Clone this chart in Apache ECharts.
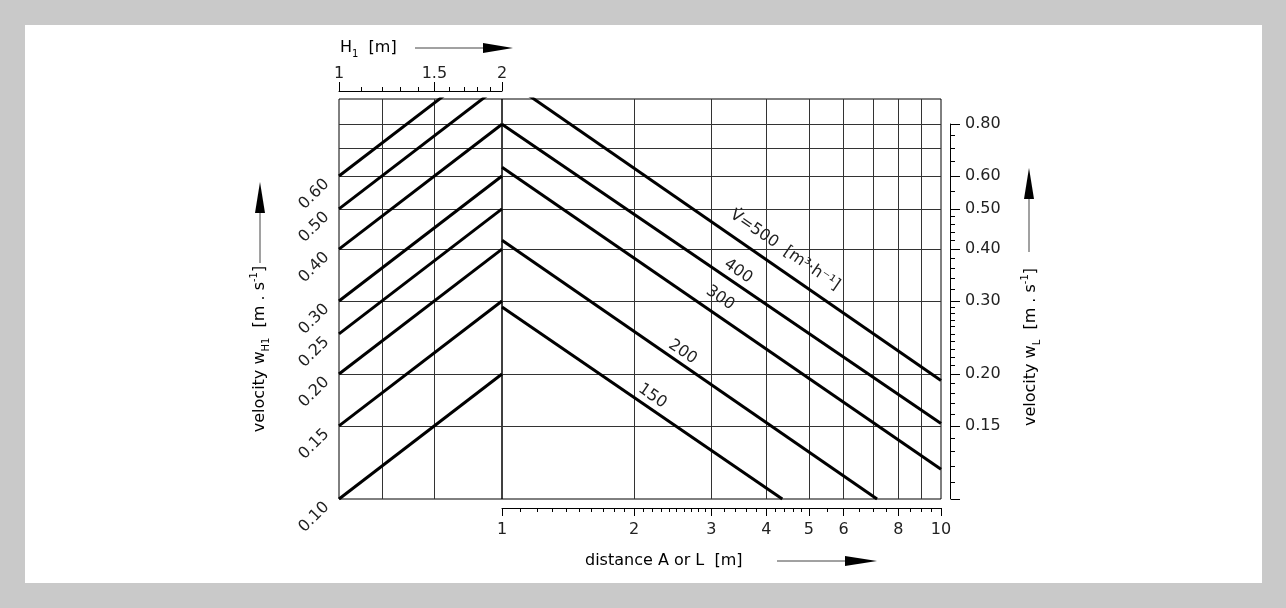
<!DOCTYPE html>
<html>
<head>
<meta charset="utf-8">
<title>velocity nomogram</title>
<style>
html, body { margin: 0; padding: 0; background: #c9c9c9; }
#panel { position: absolute; left: 25px; top: 25px; width: 1237px; height: 558px; background: #fff; }
#main { position: absolute; left: 0; top: 0; width: 1286px; height: 608px; }
</style>
<script src="https://cdn.jsdelivr.net/npm/echarts@6/dist/echarts.min.js"></script>
</head>
<body>
<div id="panel"></div>
<div id="main"></div>
<script>
// left part: rising lines over H1 (1..2 m), start value at H1=1 and end value at H1=2
var h1Start = [0.60, 0.50, 0.40, 0.30, 0.25, 0.20, 0.15, 0.10];
var h1End   = [1.20, 1.00, 0.80, 0.60, 0.50, 0.40, 0.30, 0.20];

// right part: falling lines over distance A or L, one per flow rate
var flowRates = ['500', '400', '300', '200', '150'];
var distStart = [[1, 1.04], [1, 0.80], [1, 0.63], [1, 0.42], [1, 0.29]];
var distEnd   = [[10, 0.193], [10, 0.152], [10, 0.118], [7.15, 0.10], [4.35, 0.10]];

// tick / grid values
var h1Minor = [1.1, 1.2, 1.3, 1.4, 1.6, 1.7, 1.8, 1.9];
var h1Major = [1, 1.5, 2];
var h1Grid = [1.2, 1.5];
var distMinor = [1.1, 1.2, 1.3, 1.4, 1.5, 1.6, 1.7, 1.8, 1.9,
                 2.1, 2.2, 2.3, 2.4, 2.5, 2.6, 2.7, 2.8, 2.9,
                 3.2, 3.4, 3.6, 3.8, 4.2, 4.4, 4.6, 4.8,
                 5.5, 6.5, 7, 7.5, 8.5, 9, 9.5];
var distMajor = [1, 2, 3, 4, 5, 6, 8, 10];
var distGrid = [2, 3, 4, 5, 6, 7, 8, 9];
var wGrid = [0.15, 0.2, 0.3, 0.4, 0.5, 0.6, 0.7, 0.8];
var wLeftLabels = [0.10, 0.15, 0.20, 0.25, 0.30, 0.40, 0.50, 0.60];
var wRightMinor = [0.11, 0.12, 0.13, 0.14, 0.16, 0.17, 0.18, 0.19,
                   0.21, 0.22, 0.23, 0.24, 0.25, 0.26, 0.27, 0.28, 0.29,
                   0.32, 0.34, 0.36, 0.38, 0.42, 0.44, 0.46, 0.48,
                   0.55, 0.65, 0.70, 0.75];
var wRightMajor = [0.10, 0.15, 0.20, 0.30, 0.40, 0.50, 0.60, 0.80];
var wRightLabels = [0.15, 0.20, 0.30, 0.40, 0.50, 0.60, 0.80];

// where the flow-rate captions sit (data coords of text centre)
var captionSpots = [[4.41, 0.398], [3.45, 0.354], [3.14, 0.305], [2.58, 0.226], [2.20, 0.177]];
var captionTexts = ['V\u0307=500  [m\u00b3\u00b7h\u207b\u00b9]', '400', '300', '200', '150'];

var font = 'DejaVu Sans';
var textColor = '#222';
var gridColor = '#333';

var dom = document.getElementById('main');
var myChart = echarts.init(dom);

function fmt2(v) { return (+v).toFixed(2); }

var labelStyle = { fontFamily: font, fontSize: 16, color: textColor };
var richStyle = {
    a: { fontFamily: font, fontSize: 16, color: textColor, lineHeight: 22 },
    s: { fontFamily: font, fontSize: 10, color: textColor, lineHeight: 22, verticalAlign: 'bottom' },
    p: { fontFamily: font, fontSize: 10, color: textColor, lineHeight: 22, verticalAlign: 'top' }
};

var series = [];
for (var i = 0; i < h1Start.length; i++) {
    series.push({
        type: 'line', xAxisIndex: 0, yAxisIndex: 0,
        data: [[1, h1Start[i]], [2, h1End[i]]],
        symbol: 'none', clip: true, silent: true,
        lineStyle: { color: '#000', width: 3 }
    });
}
for (var j = 0; j < flowRates.length; j++) {
    series.push({
        type: 'line', name: flowRates[j], xAxisIndex: 3, yAxisIndex: 1,
        data: [distStart[j], distEnd[j]],
        symbol: 'none', clip: true, silent: true,
        lineStyle: { color: '#000', width: 3 },
        markPoint: {
            silent: true,
            symbol: 'circle', symbolSize: 1,
            itemStyle: { color: 'transparent' },
            label: Object.assign({ show: true, position: 'inside', rotate: -34.5, formatter: captionTexts[j] }, labelStyle),
            data: [{ coord: captionSpots[j] }]
        }
    });
}

function arrow(x1, y1, x2, y2, hx, hy, px, py) {
    // shaft from (x1,y1) to the head base (hx,hy), filled head pointing at (x2,y2)
    return [
        { type: 'line', shape: { x1: x1, y1: y1, x2: hx, y2: hy }, style: { stroke: '#444', lineWidth: 1 } },
        { type: 'polygon', shape: { points: [[hx - px, hy - py], [x2, y2], [hx + px, hy + py]] }, style: { fill: '#000' } }
    ];
}

var graphics = [
    { type: 'text', x: 340, y: 48, style: { text: '{a|H}{s|1}{a|  [m]}', rich: richStyle, align: 'left', verticalAlign: 'middle' } },
    { type: 'text', x: 585, y: 561, style: { text: '{a|distance A or L  [m]}', rich: richStyle, align: 'left', verticalAlign: 'middle' } },
    { type: 'text', x: 260, y: 349, rotation: Math.PI / 2, style: { text: '{a|velocity w}{s|H1}{a|  [m . s}{p|-1}{a|]}', rich: richStyle, align: 'center', verticalAlign: 'middle' } },
    { type: 'text', x: 1031, y: 347, rotation: Math.PI / 2, style: { text: '{a|velocity w}{s|L}{a|  [m . s}{p|-1}{a|]}', rich: richStyle, align: 'center', verticalAlign: 'middle' } }
]
    .concat(arrow(415, 48, 513, 48, 483, 48, 0, 5))
    .concat(arrow(777, 561, 877, 561, 845, 561, 0, 5))
    .concat(arrow(260, 263, 260, 182, 260, 213, 5, 0))
    .concat(arrow(1029, 252, 1029, 168, 1029, 199, 5, 0));

var option = {
    animation: false,
    grid: [
        { left: 339, top: 99, width: 163, height: 400, show: true, borderColor: '#000', borderWidth: 1 },
        { left: 502, top: 99, width: 439, height: 400, show: true, borderColor: '#000', borderWidth: 1 },
        { left: 950, top: 124, width: 1, height: 375 }
    ],
    xAxis: [
        { gridIndex: 0, type: 'log', min: 1, max: 2, position: 'top', offset: 8,
          axisLine: { lineStyle: { color: '#000', width: 1 } },
          axisTick: { customValues: h1Minor, length: 4, lineStyle: { color: '#000' } },
          axisLabel: { show: false }, splitLine: { show: false } },
        { gridIndex: 0, type: 'log', min: 1, max: 2, position: 'top', offset: 8,
          axisLine: { show: false },
          axisTick: { customValues: h1Major, length: 9, lineStyle: { color: '#000' } },
          axisLabel: Object.assign({ customValues: h1Major, margin: 9, formatter: function (v) { return String(+v); } }, labelStyle),
          splitLine: { show: false } },
        { gridIndex: 0, type: 'log', min: 1, max: 2, position: 'bottom',
          axisLine: { show: false }, axisTick: { show: false, customValues: h1Grid }, axisLabel: { show: false },
          splitLine: { show: true, lineStyle: { color: gridColor, width: 1 } } },
        { gridIndex: 1, type: 'log', min: 1, max: 10, position: 'bottom', offset: 9,
          axisLine: { lineStyle: { color: '#000', width: 1 } },
          axisTick: { customValues: distMinor, length: 4, lineStyle: { color: '#000' } },
          axisLabel: { show: false }, splitLine: { show: false } },
        { gridIndex: 1, type: 'log', min: 1, max: 10, position: 'bottom', offset: 9,
          axisLine: { show: false },
          axisTick: { customValues: distMajor, length: 8, lineStyle: { color: '#000' } },
          axisLabel: Object.assign({ customValues: distMajor, margin: 14, formatter: function (v) { return String(Math.round(v)); } }, labelStyle),
          splitLine: { show: false } },
        { gridIndex: 1, type: 'log', min: 1, max: 10, position: 'top',
          axisLine: { show: false }, axisTick: { show: false, customValues: distGrid }, axisLabel: { show: false },
          splitLine: { show: true, lineStyle: { color: gridColor, width: 1 } } },
        { gridIndex: 2, type: 'value', show: false }
    ],
    yAxis: [
        { gridIndex: 0, type: 'log', min: 0.1, max: 0.92, position: 'left',
          axisLine: { show: false }, axisTick: { show: false, customValues: wGrid },
          axisLabel: Object.assign({ customValues: wLeftLabels, rotate: 45, margin: 18, verticalAlign: 'top', formatter: fmt2 }, labelStyle),
          splitLine: { show: true, lineStyle: { color: gridColor, width: 1 } } },
        { gridIndex: 1, type: 'log', min: 0.1, max: 0.92, position: 'right',
          axisLine: { show: false }, axisTick: { show: false, customValues: wGrid }, axisLabel: { show: false },
          splitLine: { show: true, lineStyle: { color: gridColor, width: 1 } } },
        { gridIndex: 2, type: 'log', min: 0.1, max: 0.8, position: 'right',
          axisLine: { lineStyle: { color: '#000', width: 1 } },
          axisTick: { customValues: wRightMinor, length: 5, lineStyle: { color: '#000' } },
          axisLabel: { show: false }, splitLine: { show: false } },
        { gridIndex: 2, type: 'log', min: 0.1, max: 0.8, position: 'right',
          axisLine: { show: false },
          axisTick: { customValues: wRightMajor, length: 9, lineStyle: { color: '#000' } },
          axisLabel: Object.assign({ customValues: wRightLabels, margin: 14, formatter: fmt2 }, labelStyle),
          splitLine: { show: false } }
    ],
    graphic: graphics,
    series: series
};

if (option && typeof option === "object") {
    myChart.setOption(option, true);
}
</script>
</body>
</html>
